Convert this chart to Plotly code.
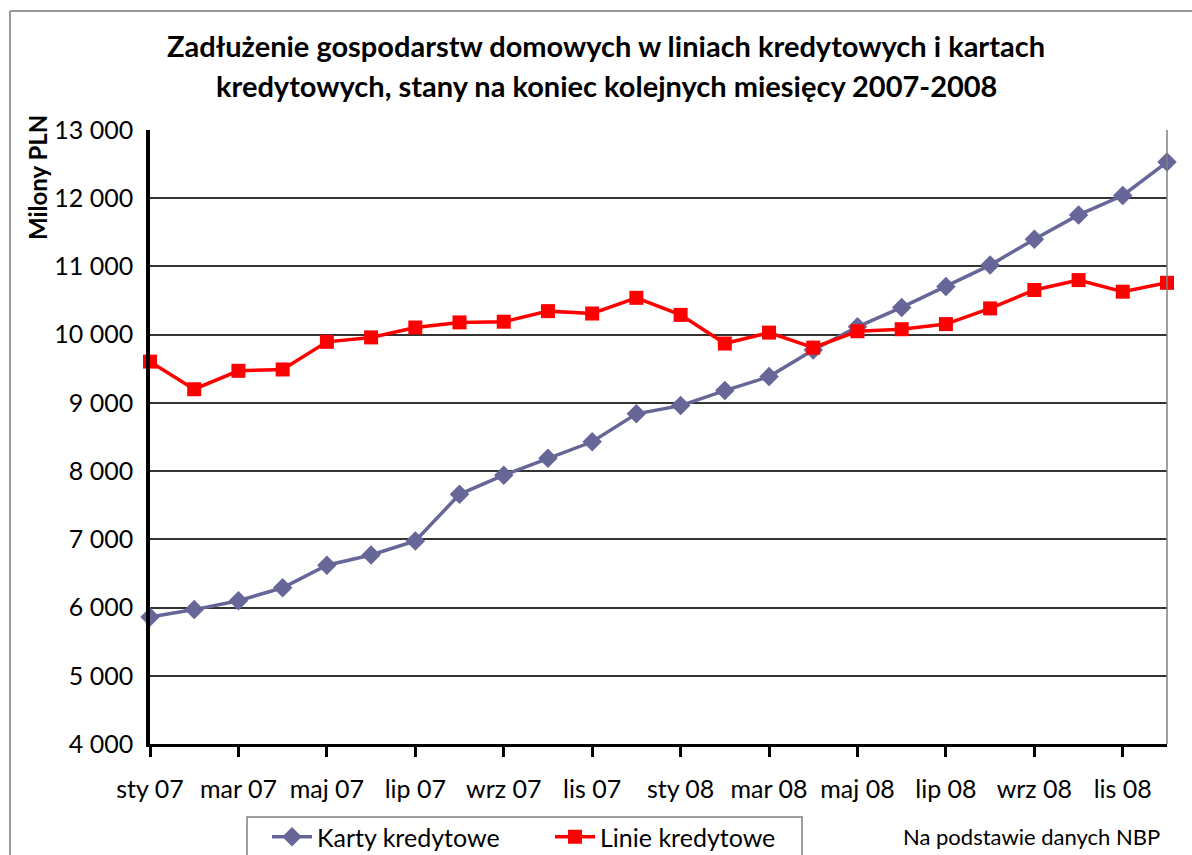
import plotly.graph_objects as go

months = ["sty 07", "lut 07", "mar 07", "kwi 07", "maj 07", "cze 07", "lip 07", "sie 07",
          "wrz 07", "paź 07", "lis 07", "gru 07", "sty 08", "lut 08", "mar 08", "kwi 08",
          "maj 08", "cze 08", "lip 08", "sie 08", "wrz 08", "paź 08", "lis 08", "gru 08"]
karty = [5860, 5970, 6100, 6290, 6620, 6770, 6975, 7660, 7940, 8190, 8430, 8840,
         8960, 9180, 9385, 9775, 10115, 10400, 10705, 11020, 11400, 11755, 12040, 12530]
linie = [9605, 9200, 9470, 9490, 9895, 9960, 10105, 10180, 10190, 10345, 10310, 10540,
         10290, 9870, 10030, 9810, 10050, 10080, 10155, 10385, 10655, 10800, 10630, 10760]
yticks = [4000, 5000, 6000, 7000, 8000, 9000, 10000, 11000, 12000, 13000]
ytick_labels = ["4 000", "5 000", "6 000", "7 000", "8 000", "9 000", "10 000", "11 000", "12 000", "13 000"]

x = list(range(len(months)))
FONT = "Lato"

fig = go.Figure()
fig.add_trace(go.Scatter(
    x=x, y=karty, name="Karty kredytowe", mode="lines+markers",
    line=dict(color="#666699", width=3.5),
    marker=dict(symbol="diamond", size=15, color="#666699"),
    cliponaxis=False,
))
fig.add_trace(go.Scatter(
    x=x, y=linie, name="Linie kredytowe", mode="lines+markers",
    line=dict(color="#FF0000", width=3.5),
    marker=dict(symbol="square", size=14, color="#FF0000"),
    cliponaxis=False,
))

L, R, T, B = 150, 25, 130, 111
W, H = 1192, 855
pw, ph = W - L - R, H - T - B


def px(v):
    return (v - L) / pw


def py(v):
    return (H - B - v) / ph


fig.update_layout(
    width=W, height=H,
    margin=dict(l=L, r=R, t=T, b=B, autoexpand=False),
    paper_bgcolor="white", plot_bgcolor="white",
    font=dict(family=FONT, color="black", size=25),
    showlegend=True,
    legend=dict(
        orientation="h", x=px(247), y=py(814), xanchor="left", yanchor="top",
        borderwidth=0, bgcolor="rgba(0,0,0,0)", font=dict(size=25, family=FONT),
        entrywidth=208, entrywidthmode="pixels", itemwidth=40, indentation=20,
    ),
)

fig.update_xaxes(
    range=[0, len(months) - 1],
    tickmode="array", tickvals=x[::2], ticktext=months[::2],
    ticks="outside", ticklen=10, tickwidth=3, tickcolor="black",
    showline=True, linecolor="black", linewidth=3,
    showgrid=False, zeroline=False,
    tickfont=dict(size=25, family=FONT), ticklabelstandoff=11,
)
fig.update_yaxes(
    range=[4000, 13000],
    tickmode="array", tickvals=yticks, ticktext=ytick_labels,
    ticks="", showline=True, linecolor="black", linewidth=3.5,
    showgrid=True, gridcolor="#333333", gridwidth=1.5, zeroline=False,
    tickfont=dict(size=25, family=FONT), ticklabelstandoff=8,
)

# right plot border
fig.add_shape(type="line", xref="paper", yref="paper", x0=1, x1=1, y0=0, y1=1,
              line=dict(color="#808080", width=1.5))
# outer chart border (top and left)
fig.add_shape(type="line", xref="paper", yref="paper", x0=px(10), x1=px(1200), y0=py(11), y1=py(11),
              line=dict(color="#999999", width=2))
fig.add_shape(type="line", xref="paper", yref="paper", x0=px(10), x1=px(10), y0=py(11), y1=py(900),
              line=dict(color="#999999", width=2))
# legend box
fig.add_shape(type="rect", xref="paper", yref="paper", x0=px(247), x1=px(802), y0=py(817), y1=py(880),
              line=dict(color="#808080", width=1.5), fillcolor="rgba(0,0,0,0)")

fig.add_annotation(text="<b>Zadłużenie gospodarstw domowych w liniach kredytowych i kartach</b>",
                   xref="paper", yref="paper", x=px(606), y=py(46), showarrow=False,
                   xanchor="center", yanchor="middle", font=dict(size=29, family=FONT))
fig.add_annotation(text="<b>kredytowych, stany na koniec kolejnych miesięcy 2007-2008</b>",
                   xref="paper", yref="paper", x=px(606), y=py(86), showarrow=False,
                   xanchor="center", yanchor="middle", font=dict(size=29, family=FONT))
fig.add_annotation(text="<b>Milony PLN</b>", textangle=-90,
                   xref="paper", yref="paper", x=px(37), y=py(178), showarrow=False,
                   xanchor="center", yanchor="middle", font=dict(size=24, family=FONT))
fig.add_annotation(text="Na podstawie danych NBP",
                   xref="paper", yref="paper", x=px(1162), y=py(836), showarrow=False,
                   xanchor="right", yanchor="middle", font=dict(size=22, family=FONT))

fig.write_html("out.html", config={"displayModeBar": False},
               post_script="document.body.style.margin='0';")
